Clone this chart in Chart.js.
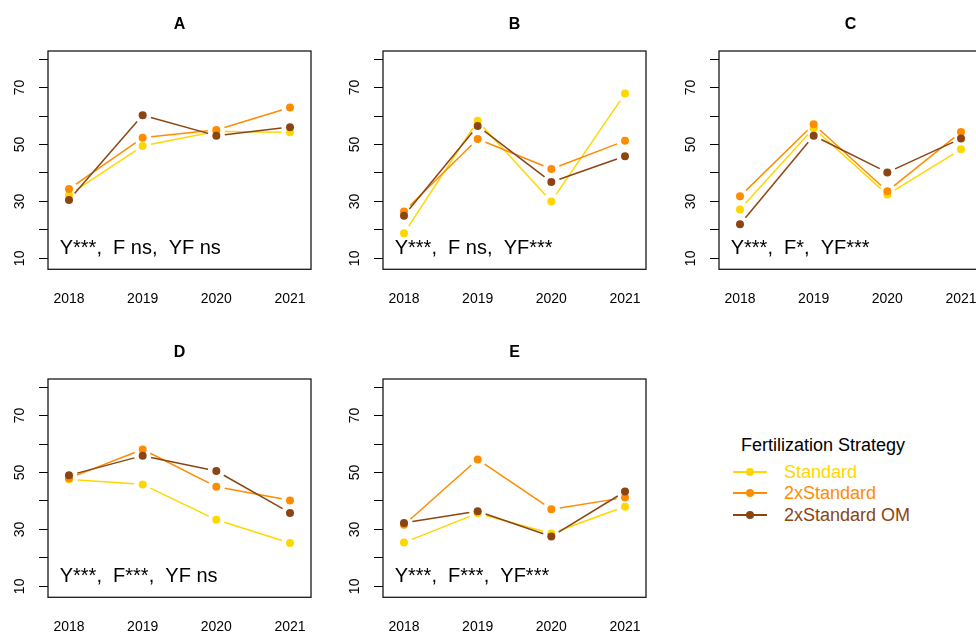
<!DOCTYPE html>
<html>
<head>
<meta charset="utf-8">
<script src="https://cdn.jsdelivr.net/npm/chart.js@4"></script>
<style>
  html, body { margin: 0; padding: 0; background: #fff; }
  body { width: 976px; height: 632px; overflow: hidden; position: relative;
         font-family: "Liberation Sans", Arial, sans-serif; }
  canvas.panel { position: absolute; }
  .legend-title, .legend-row { position: absolute; white-space: nowrap; font-size: 18px; line-height: 22px; }
  .legend-title { color: #000; }
  .legend-key { position: absolute; width: 34px; height: 22px; }
  .legend-key .ln { position: absolute; left: 0; top: 10px; width: 34px; height: 2px; }
  .legend-key .dt { position: absolute; left: 13px; top: 7px; width: 8px; height: 8px; border-radius: 50%; }
</style>
</head>
<body>
<script>
// Years on the x axis
const years = ['2018', '2019', '2020', '2021'];

// Panel titles and the significance line printed in each panel
const panelTitles = ['A', 'B', 'C', 'D', 'E'];
const statLines = [
  'Y***,  F ns,  YF ns',
  'Y***,  F ns,  YF***',
  'Y***,  F*,  YF***',
  'Y***,  F***,  YF ns',
  'Y***,  F***,  YF***'
];

// Fertilization strategies
const seriesNames = ['Standard', '2xStandard', '2xStandard OM'];
const seriesColors = ['#FFD700', '#FF8C00', '#8B4513'];

// Values per panel (A..E), one row per panel, one entry per year
const standardValues = [
  [32.3, 49.5, 54.6, 54.3],
  [18.8, 58.3, 30.0, 67.9],
  [27.2, 55.7, 32.4, 48.3],
  [47.6, 45.8, 33.4, 25.2],
  [25.4, 35.7, 28.6, 38.0]
];
const doubleValues = [
  [34.4, 52.4, 55.1, 63.0],
  [26.5, 51.9, 41.4, 51.3],
  [31.8, 57.1, 33.6, 54.4],
  [48.0, 58.1, 45.0, 40.2],
  [31.6, 54.6, 37.1, 41.2]
];
const doubleOmValues = [
  [30.5, 60.3, 53.1, 56.1],
  [25.0, 56.5, 36.8, 45.9],
  [22.0, 53.1, 40.2, 52.1],
  [49.0, 55.9, 50.5, 35.8],
  [32.3, 36.4, 27.5, 43.3]
];
const seriesValues = [standardValues, doubleValues, doubleOmValues];

// Y axis tick marks and the subset that carries labels
const yTicks = [10, 20, 30, 40, 50, 60, 70, 80];
const yLabels = [10, 30, 50, 70];

const FONT = '"Liberation Sans", Arial, sans-serif';

// Lines between consecutive points, stopping short of each point,
// plus the frame, rotated y labels, title and significance text.
const panelDecor = {
  id: 'panelDecor',
  beforeDatasetsDraw(chart, args, opts) {
    const ctx = chart.ctx;
    const gap = 8.5;
    ctx.save();
    ctx.lineWidth = 1.5;
    ctx.lineCap = 'butt';
    chart.data.datasets.forEach((ds, di) => {
      const pts = chart.getDatasetMeta(di).data;
      ctx.strokeStyle = ds.borderColor;
      for (let i = 0; i < pts.length - 1; i++) {
        const a = pts[i], b = pts[i + 1];
        const dx = b.x - a.x, dy = b.y - a.y;
        const len = Math.hypot(dx, dy);
        if (len <= 2 * gap) continue;
        const ux = dx / len, uy = dy / len;
        ctx.beginPath();
        ctx.moveTo(a.x + ux * gap, a.y + uy * gap);
        ctx.lineTo(b.x - ux * gap, b.y - uy * gap);
        ctx.stroke();
      }
    });
    ctx.restore();
  },
  afterDraw(chart, args, opts) {
    const ctx = chart.ctx;
    const area = chart.chartArea;
    const yScale = chart.scales.y;
    ctx.save();
    // frame
    ctx.strokeStyle = '#1a1a1a';
    ctx.lineWidth = 1.3;
    ctx.strokeRect(area.left, area.top, area.right - area.left, area.bottom - area.top);
    // rotated y labels
    ctx.fillStyle = '#000';
    ctx.font = '14px ' + FONT;
    ctx.textAlign = 'center';
    ctx.textBaseline = 'middle';
    yLabels.forEach(v => {
      const y = yScale.getPixelForValue(v);
      ctx.save();
      ctx.translate(20, y);
      ctx.rotate(-Math.PI / 2);
      ctx.fillText(String(v), 0, 0);
      ctx.restore();
    });
    // title
    ctx.font = 'bold 16px ' + FONT;
    ctx.fillText(opts.title, (area.left + area.right) / 2, 25);
    // significance line
    ctx.font = '20px ' + FONT;
    ctx.textAlign = 'left';
    ctx.textBaseline = 'alphabetic';
    ctx.fillText(opts.stat, area.left + 11.7, area.bottom - 15.3);
    ctx.restore();
  }
};

const colLeft = [0, 335, 671];
const rowTop = [0, 328];

function makePanel(p) {
  const canvas = document.createElement('canvas');
  canvas.className = 'panel';
  canvas.width = 335;
  canvas.height = 327;
  canvas.style.left = colLeft[p % 3] + 'px';
  canvas.style.top = rowTop[Math.floor(p / 3)] + 'px';
  document.body.appendChild(canvas);

  new Chart(canvas, {
    type: 'line',
    data: {
      datasets: seriesNames.map((name, s) => ({
        label: name,
        data: seriesValues[s][p].map((v, i) => ({ x: i + 1, y: v })),
        showLine: false,
        borderColor: seriesColors[s],
        pointBackgroundColor: seriesColors[s],
        pointBorderWidth: 0,
        pointRadius: 4,
        order: seriesNames.length - 1 - s
      }))
    },
    options: {
      responsive: false,
      animation: false,
      events: [],
      layout: { padding: { top: 51, right: 24, left: 0, bottom: 0 } },
      plugins: {
        legend: { display: false },
        tooltip: { enabled: false },
        panelDecor: { title: panelTitles[p], stat: statLines[p] }
      },
      scales: {
        x: {
          type: 'linear',
          min: 0.715,
          max: 4.285,
          afterBuildTicks: s => { s.ticks = years.map((_, i) => ({ value: i + 1 })); },
          afterFit: s => { s.height = 57.7; },
          ticks: {
            callback: v => years[v - 1],
            font: { size: 14, family: FONT },
            color: '#000',
            padding: 21,
            maxRotation: 0,
            autoSkip: false
          },
          grid: { display: false, drawTicks: false },
          border: { display: false }
        },
        y: {
          min: 6.16,
          max: 82.84,
          afterBuildTicks: s => { s.ticks = yTicks.map(v => ({ value: v })); },
          afterFit: s => { s.width = 48; },
          ticks: { display: false },
          grid: { drawOnChartArea: false, drawTicks: true, tickLength: 9, color: '#000', lineWidth: 1 },
          border: { display: false }
        }
      }
    },
    plugins: [panelDecor]
  });
}

panelTitles.forEach((_, p) => makePanel(p));

// Legend
const legTitle = document.createElement('div');
legTitle.className = 'legend-title';
legTitle.textContent = 'Fertilization Strategy';
legTitle.style.left = '741px';
legTitle.style.top = '434px';
document.body.appendChild(legTitle);

const legendRowCenters = [472, 493, 515];
seriesNames.forEach((name, s) => {
  const cy = legendRowCenters[s];
  const key = document.createElement('div');
  key.className = 'legend-key';
  key.style.left = '733px';
  key.style.top = (cy - 11) + 'px';
  key.innerHTML = '<div class="ln" style="background:' + seriesColors[s] + '"></div>' +
                  '<div class="dt" style="background:' + seriesColors[s] + '"></div>';
  document.body.appendChild(key);
  const row = document.createElement('div');
  row.className = 'legend-row';
  row.textContent = name;
  row.style.color = seriesColors[s];
  row.style.left = '784px';
  row.style.top = (cy - 11) + 'px';
  document.body.appendChild(row);
});
</script>
</body>
</html>
